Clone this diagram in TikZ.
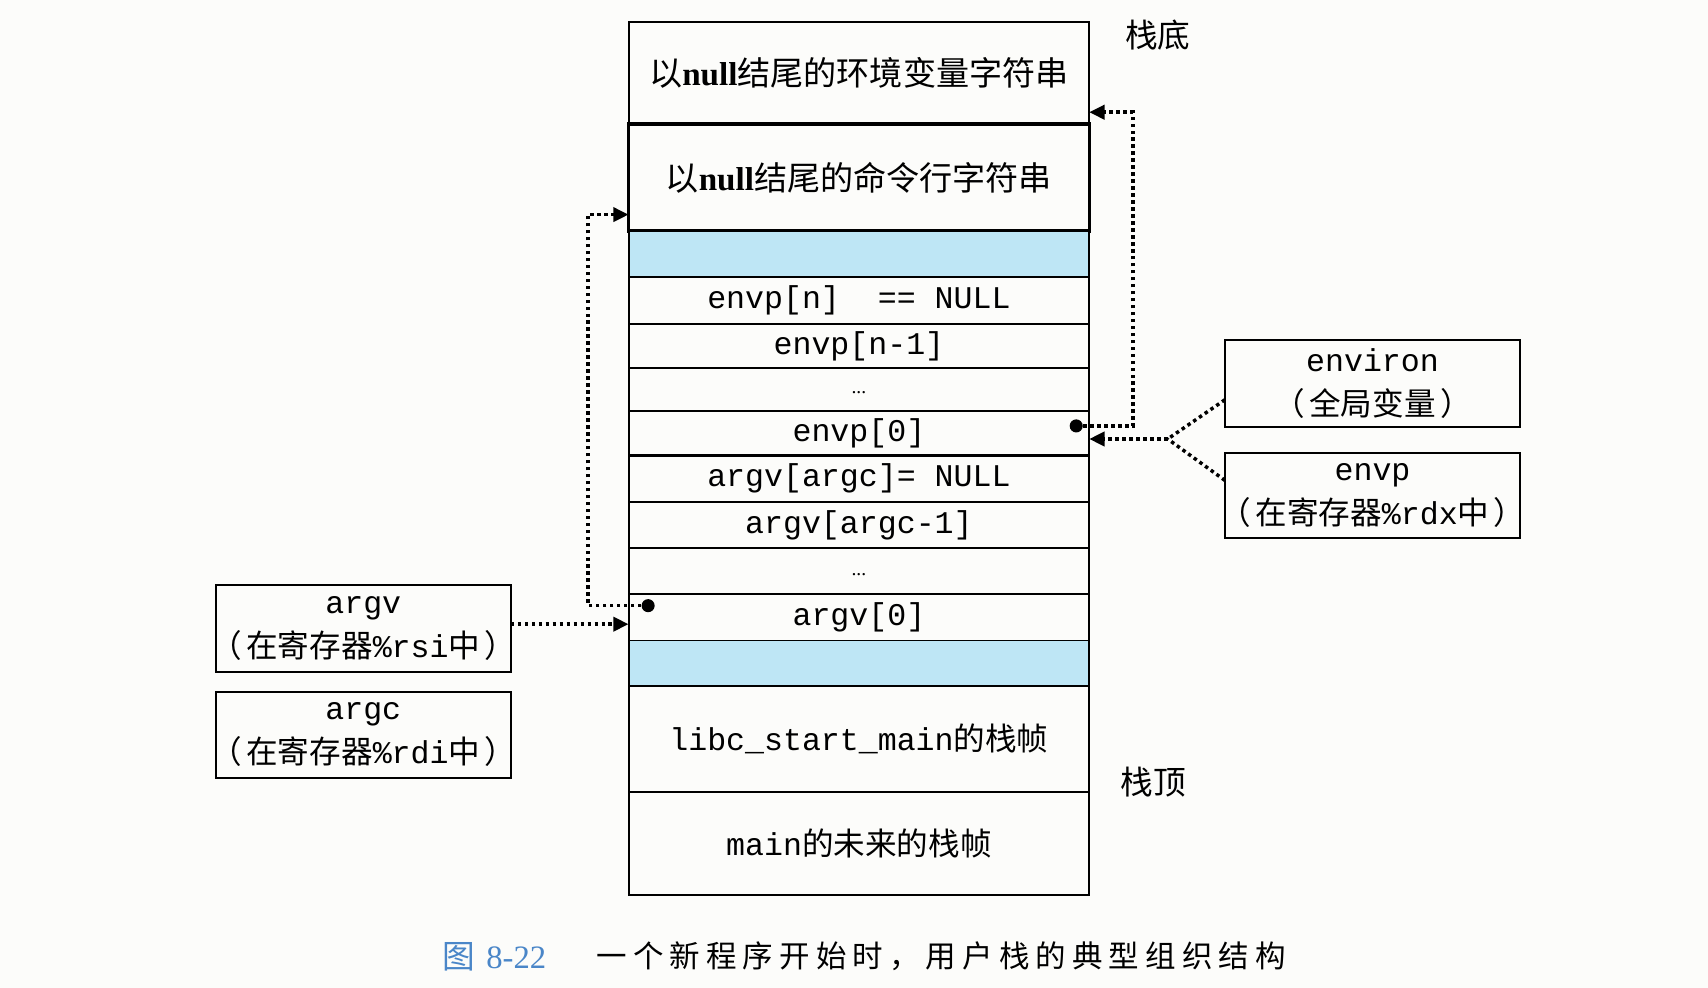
\documentclass[tikz,border=0pt]{standalone}
\usepackage{fontspec}
\setmainfont{Liberation Serif}
\setmonofont{Liberation Mono}
\newfontfamily\cjk{Noto Sans CJK SC}
\usetikzlibrary{arrows.meta}
\definecolor{bluefill}{RGB}{190,230,245}
\definecolor{capblue}{RGB}{74,134,200}
\definecolor{bgc}{RGB}{252,252,250}
\newcommand{\lp}{\hspace*{-6pt}{\cjk （}\hspace{2pt}}
\newcommand{\rp}{\hspace{2pt}{\cjk ）}\hspace*{-6pt}}
\tikzset{
 cell/.style={draw, line width=0.9pt, minimum width=211.5pt, inner sep=0pt, outer sep=0pt, font=\fontsize{14.5pt}{17pt}\selectfont\ttfamily},
 sidebox/.style={draw, line width=0.9pt, minimum width=135.5pt, inner sep=0pt, outer sep=0pt, align=center, font=\fontsize{14.5pt}{20pt}\selectfont\ttfamily},
 ptr/.style={line width=1.6pt, dash pattern=on 1.6pt off 1.6pt, -{Triangle[length=7pt,width=6.5pt]}},
 dotmark/.style={circle, fill, inner sep=0pt, minimum size=6pt},
 lbl/.style={font=\fontsize{15pt}{15pt}\selectfont\cjk},
}
\begin{document}
\begin{tikzpicture}
\fill[bgc] (0,0) rectangle (784pt,-453.5pt);
\useasboundingbox (0,0) rectangle (784pt,-453.5pt);
% stack column
\node[cell, minimum height=47pt, font=\fontsize{15.2pt}{18pt}\selectfont\cjk] (b1) at (394.25pt,-33.5pt) {以{\rmfamily\bfseries null}结尾的环境变量字符串};
\node[cell, minimum height=49pt, line width=1.6pt, font=\fontsize{15.2pt}{18pt}\selectfont\cjk] (b2) at (394.25pt,-81.5pt) {以{\rmfamily\bfseries null}结尾的命令行字符串};
\node[cell, minimum height=21pt, fill=bluefill] (bl1) at (394.25pt,-116.5pt) {};
\node[cell, minimum height=21.5pt] (r1) at (394.25pt,-137.75pt) {envp[n]\ \ == NULL};
\node[cell, minimum height=20.5pt] (r2) at (394.25pt,-158.75pt) {envp[n-1]};
\node[cell, minimum height=19.5pt] (r3) at (394.25pt,-178.75pt) {\raisebox{-4pt}{\fontsize{9pt}{9pt}\selectfont\rmfamily ...}};
\node[cell, minimum height=20.5pt] (r4) at (394.25pt,-198.75pt) {envp[0]};
\node[cell, minimum height=21.5pt] (r5) at (394.25pt,-219.75pt) {argv[argc]= NULL};
\node[cell, minimum height=21pt] (r6) at (394.25pt,-241pt) {argv[argc-1]};
\node[cell, minimum height=21pt] (r7) at (394.25pt,-262pt) {\raisebox{-4pt}{\fontsize{9pt}{9pt}\selectfont\rmfamily ...}};
\node[cell, minimum height=21.5pt] (r8) at (394.25pt,-283.25pt) {argv[0]};
\node[cell, minimum height=21pt, fill=bluefill] (bl2) at (394.25pt,-304.5pt) {};
\node[cell, minimum height=48.5pt] (libc) at (394.25pt,-339.25pt) {libc\_start\_main{\cjk 的栈帧}};
\node[cell, minimum height=47.5pt] (mainf) at (394.25pt,-387.25pt) {main{\cjk 的未来的栈帧}};
\draw[line width=1.4pt] (r4.south west) -- (r4.south east);
% labels
\node[lbl] (bottom) at (531.5pt,-16pt) {栈底};
\node[lbl] (top) at (529.5pt,-359pt) {栈顶};
% side boxes
\node[sidebox, minimum height=40pt] (environ) at (630pt,-176pt) {environ\\\lp{\cjk 全局变量}\rp};
\node[sidebox, minimum height=39pt] (envp) at (630pt,-227.5pt) {envp\\\lp{\cjk 在寄存器}\%rdx{\cjk 中}\rp};
\node[sidebox, minimum height=40pt] (argv) at (166.75pt,-288.5pt) {argv\\\lp{\cjk 在寄存器}\%rsi{\cjk 中}\rp};
\node[sidebox, minimum height=39.5pt] (argc) at (166.75pt,-337.25pt) {argc\\\lp{\cjk 在寄存器}\%rdi{\cjk 中}\rp};
% pointers
\node[dotmark] (d1) at (494pt,-195.5pt) {};
\coordinate (c1) at (520pt,-195.5pt);
\coordinate (c2) at (520pt,-51.5pt);
\draw[ptr] (d1.center) -- (c1) -- (c2) -- (b1.east |- c2);
\coordinate (j) at (536pt,-201.5pt);
\draw[ptr, -] ([yshift=-7.5pt]environ.west) -- (j);
\draw[ptr, -] ([yshift=7pt]envp.west) -- (j);
\draw[ptr] (j) -- (r4.east |- j);
\draw[ptr] (argv.east |- 0,-286.5pt) -- (r8.west |- 0,-286.5pt);
\node[dotmark] (d2) at (297.5pt,-278pt) {};
\coordinate (c3) at (270pt,-278pt);
\coordinate (c4) at (270pt,-98.5pt);
\draw[ptr] (d2.center) -- (c3) -- (c4) -- (b2.west |- c4);
% caption
\node[text=capblue, font=\fontsize{15pt}{15pt}\selectfont] (capnum) at (227pt,-439pt) {{\cjk 图}\hspace{5pt}8-22};
\node[font=\fontsize{14pt}{14pt}\selectfont\cjk] (cap) at (432pt,-439pt) {\addfontfeature{LetterSpace=20}一个新程序开始时，用户栈的典型组织结构};
\end{tikzpicture}
\end{document}
